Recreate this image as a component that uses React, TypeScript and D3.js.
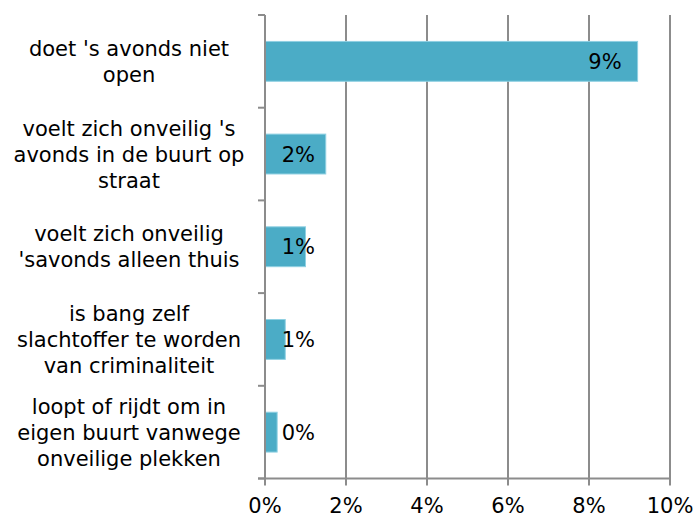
import React, { useEffect, useRef } from 'react';
import * as d3 from 'd3';

// categories, already wrapped like the original axis labels
const categories: string[][] = [
  ["doet 's avonds niet", "open"],
  ["voelt zich onveilig 's", "avonds in de buurt op", "straat"],
  ["voelt zich onveilig", "'savonds alleen thuis"],
  ["is bang zelf", "slachtoffer te worden", "van criminaliteit"],
  ["loopt of rijdt om in", "eigen buurt vanwege", "onveilige plekken"],
];
const values: number[] = [9.2, 1.5, 1.0, 0.5, 0.3];
const valueLabels: string[] = ["9%", "2%", "1%", "1%", "0%"];
const xTicks: number[] = [0, 2, 4, 6, 8, 10];

const width = 696;
const height = 516;
const margin = { top: 15, right: 26, bottom: 37.5, left: 265 };
const font = "'DejaVu Sans', Verdana, sans-serif";
const fontSize = 21;

const App = () => {
  const svgRef = useRef<SVGSVGElement>(null);

  useEffect(() => {
    const svg = d3.select(svgRef.current);
    svg.selectAll("*").remove();

    const x = d3.scaleLinear()
      .domain([0, 10])
      .range([margin.left, width - margin.right]);

    const y = d3.scaleBand<number>()
      .domain(d3.range(categories.length))
      .range([margin.top, height - margin.bottom])
      .paddingInner(0.57)
      .paddingOuter(0.285);

    const step = y.step();
    const y0 = margin.top;
    const y1 = height - margin.bottom;
    const gray = "#8c8c8c";

    // vertical grid lines
    svg.append("g")
      .selectAll("line")
      .data(xTicks.slice(1))
      .enter()
      .append("line")
      .attr("x1", d => x(d))
      .attr("x2", d => x(d))
      .attr("y1", y0)
      .attr("y2", y1 + 7)
      .attr("stroke", gray)
      .attr("stroke-width", 2);

    // bars
    svg.append("g")
      .selectAll("rect")
      .data(values)
      .enter()
      .append("rect")
      .attr("x", x(0))
      .attr("y", (d, i) => y(i)!)
      .attr("width", d => x(d) - x(0))
      .attr("height", y.bandwidth())
      .attr("fill", "#4BACC6")
      .attr("stroke", "#8fd0e2")
      .attr("stroke-width", 1);

    // y axis line + ticks
    svg.append("line")
      .attr("x1", x(0)).attr("x2", x(0))
      .attr("y1", y0).attr("y2", y1 + 7)
      .attr("stroke", gray).attr("stroke-width", 2);
    svg.append("g")
      .selectAll("line")
      .data(d3.range(categories.length + 1))
      .enter()
      .append("line")
      .attr("x1", x(0) - 7)
      .attr("x2", x(0))
      .attr("y1", i => y0 + i * step)
      .attr("y2", i => y0 + i * step)
      .attr("stroke", gray)
      .attr("stroke-width", 2);

    // x axis line
    svg.append("line")
      .attr("x1", x(0) - 7).attr("x2", x(10) + 1)
      .attr("y1", y1).attr("y2", y1)
      .attr("stroke", gray).attr("stroke-width", 2);

    // x tick labels
    svg.append("g")
      .selectAll("text")
      .data(xTicks)
      .enter()
      .append("text")
      .attr("x", d => x(d))
      .attr("y", y1 + 34)
      .attr("text-anchor", "middle")
      .attr("font-family", font)
      .attr("font-size", fontSize)
      .attr("fill", "#000")
      .text(d => `${d}%`);

    // category labels
    const catG = svg.append("g");
    categories.forEach((lines, i) => {
      const cy = y(i)! + y.bandwidth() / 2;
      const lh = 26;
      const first = cy - ((lines.length - 1) * lh) / 2 + 7.5;
      const t = catG.append("text")
        .attr("text-anchor", "middle")
        .attr("font-family", font)
        .attr("font-size", fontSize)
        .attr("fill", "#000");
      lines.forEach((ln, j) => {
        t.append("tspan")
          .attr("x", 129)
          .attr("y", first + j * lh)
          .text(ln);
      });
    });

    // value labels
    svg.append("g")
      .selectAll("text")
      .data(values)
      .enter()
      .append("text")
      .attr("x", d => Math.max(x(d) - 16, x(0) + 50))
      .attr("y", (d, i) => y(i)! + y.bandwidth() / 2 + 7.5)
      .attr("text-anchor", "end")
      .attr("font-family", font)
      .attr("font-size", fontSize)
      .attr("fill", "#000")
      .text((d, i) => valueLabels[i]);
  }, []);

  return (
    <div style={{ position: "fixed", left: 0, top: 0 }}>
      <svg ref={svgRef} width={width} height={height} style={{ display: "block", background: "#fff" }}></svg>
    </div>
  );
};

export default App;
